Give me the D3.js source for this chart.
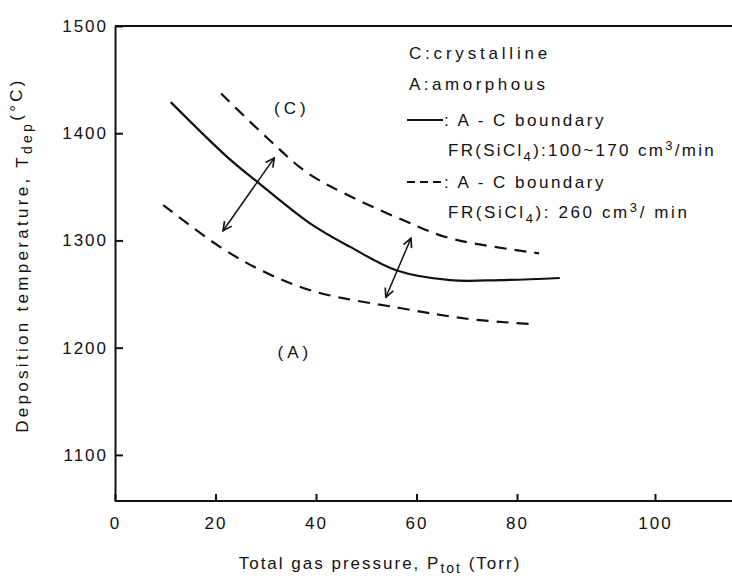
<!DOCTYPE html>
<html>
<head>
<meta charset="utf-8">
<script src="https://d3js.org/d3.v7.min.js"></script>
<style>
  body { margin: 0; background: #fff; }
  text { font-family: "Liberation Sans", Arial, sans-serif; fill: #111; }
</style>
</head>
<body>
<script>
// data
var xTicks = [0, 20, 40, 60, 80, 100];
var yTicks = [1100, 1200, 1300, 1400, 1500];

// A-C boundary, FR(SiCl4) 100~170
var solidP = [11.1, 22.3, 28.5, 38.8, 46.8, 56.1, 66.7, 76.6, 86.2];
var solidT = [1429, 1378, 1354, 1316, 1294, 1272, 1263, 1263, 1265];

// A-C boundary, FR(SiCl4) 260 : upper and lower band
var upperP = [21.1, 30.2, 38, 46, 57.3, 66.7, 83.2];
var upperT = [1437, 1396, 1364, 1343, 1319, 1302, 1288];
var lowerP = [9.6, 20.9, 30, 40, 56.7, 70, 82];
var lowerT = [1333, 1294, 1270, 1252, 1237, 1227, 1222];

// double headed arrows [p1, t1, p2, t2]
var arrows = [[21.5, 1309, 31.7, 1377], [53.9, 1247, 58.9, 1302]];

var width = 732, height = 581;

var svg = d3.select('body').append('svg')
  .attr('width', width)
  .attr('height', height);

// the x ticks of the original are not evenly spaced past 80
var x = d3.scaleLinear().domain([0, 80, 100]).range([115, 517, 655]);
var y = d3.scaleLinear().domain([1057, 1500]).range([501, 26]);

svg.append('defs').append('marker')
  .attr('id', 'head')
  .attr('viewBox', '0 0 10 10')
  .attr('refX', 9).attr('refY', 5)
  .attr('markerWidth', 11).attr('markerHeight', 11)
  .attr('markerUnits', 'userSpaceOnUse')
  .attr('orient', 'auto-start-reverse')
  .append('path')
  .attr('d', 'M1,1 L9,5 L1,9')
  .attr('fill', 'none')
  .attr('stroke', '#111')
  .attr('stroke-width', 1.5);

// axes
var yAxis = svg.append('g')
  .attr('transform', 'translate(' + x(0) + ',0)')
  .call(d3.axisLeft(y).tickValues(yTicks).tickFormat(d3.format('d'))
    .tickSize(-8).tickSizeOuter(0).tickPadding(7));
yAxis.selectAll('text').attr('font-size', 17).attr('letter-spacing', 2);

var xAxis = svg.append('g')
  .attr('transform', 'translate(0,' + y(1057) + ')')
  .call(d3.axisBottom(x).tickValues(xTicks).tickSize(-7).tickSizeOuter(0).tickPadding(16));
xAxis.selectAll('text').attr('font-size', 17).attr('letter-spacing', 2);
xAxis.select('.domain').remove();

svg.selectAll('.tick line, .domain').attr('stroke', '#111').attr('stroke-width', 2);

// bottom and top lines run to the edge
svg.append('line')
  .attr('x1', x(0)).attr('x2', width)
  .attr('y1', y(1057)).attr('y2', y(1057))
  .attr('stroke', '#111').attr('stroke-width', 2);
svg.append('line')
  .attr('x1', x(0)).attr('x2', width)
  .attr('y1', y(1500)).attr('y2', y(1500))
  .attr('stroke', '#111').attr('stroke-width', 2);

// curves
var line = d3.line()
  .x(function(d) { return x(d[0]); })
  .y(function(d) { return y(d[1]); })
  .curve(d3.curveCatmullRom);

function pairs(p, t) { return p.map(function(v, i) { return [v, t[i]]; }); }

svg.append('path')
  .attr('d', line(pairs(solidP, solidT)))
  .attr('fill', 'none').attr('stroke', '#111').attr('stroke-width', 2.2);

[pairs(upperP, upperT), pairs(lowerP, lowerT)].forEach(function(d) {
  svg.append('path')
    .attr('d', line(d))
    .attr('fill', 'none').attr('stroke', '#111').attr('stroke-width', 2.2)
    .attr('stroke-dasharray', '12,8');
});

svg.selectAll('.arrow')
  .data(arrows)
  .enter().append('line')
  .attr('class', 'arrow')
  .attr('x1', function(d) { return x(d[0]); })
  .attr('y1', function(d) { return y(d[1]); })
  .attr('x2', function(d) { return x(d[2]); })
  .attr('y2', function(d) { return y(d[3]); })
  .attr('stroke', '#111').attr('stroke-width', 1.5)
  .attr('marker-start', 'url(#head)')
  .attr('marker-end', 'url(#head)');

// region labels
svg.append('text')
  .attr('x', x(35.2)).attr('y', y(1423.5)).attr('dy', '0.35em')
  .attr('text-anchor', 'middle').attr('font-size', 17)
  .attr('letter-spacing', 4)
  .text('(C)');
svg.append('text')
  .attr('x', x(35.8)).attr('y', y(1196)).attr('dy', '0.35em')
  .attr('text-anchor', 'middle').attr('font-size', 17)
  .attr('letter-spacing', 4)
  .text('(A)');

// legend
var lg = svg.append('g').attr('font-size', 17);
lg.append('text').attr('x', 409).attr('y', 59).attr('letter-spacing', 3.8).text('C:crystalline');
lg.append('text').attr('x', 409).attr('y', 90).attr('letter-spacing', 3.5).text('A:amorphous');

lg.append('line').attr('x1', 407).attr('x2', 443).attr('y1', 120).attr('y2', 120)
  .attr('stroke', '#111').attr('stroke-width', 2.2);
lg.append('text').attr('x', 444).attr('y', 126).attr('letter-spacing', 2.5)
  .text(': A - C  boundary');
var t1 = lg.append('text').attr('x', 448).attr('y', 156).attr('letter-spacing', 2.3);
t1.append('tspan').text('FR(SiCl');
t1.append('tspan').attr('font-size', 13).attr('dy', 5).text('4');
t1.append('tspan').attr('dy', -5).text('):100~170 cm');
t1.append('tspan').attr('font-size', 13).attr('dy', -6).text('3');
t1.append('tspan').attr('dy', 6).text('/min');

lg.append('line').attr('x1', 407).attr('x2', 443).attr('y1', 182).attr('y2', 182)
  .attr('stroke', '#111').attr('stroke-width', 2.2).attr('stroke-dasharray', '8,5');
lg.append('text').attr('x', 444).attr('y', 188).attr('letter-spacing', 2.5)
  .text(': A - C  boundary');
var t2 = lg.append('text').attr('x', 448).attr('y', 218).attr('letter-spacing', 2.6);
t2.append('tspan').text('FR(SiCl');
t2.append('tspan').attr('font-size', 13).attr('dy', 5).text('4');
t2.append('tspan').attr('dy', -5).text('): 260  cm');
t2.append('tspan').attr('font-size', 13).attr('dy', -6).text('3');
t2.append('tspan').attr('dy', 6).text('/ min');

// axis titles
var xt = svg.append('text')
  .attr('x', 380).attr('y', 569)
  .attr('text-anchor', 'middle').attr('font-size', 17)
  .attr('letter-spacing', 2);
xt.append('tspan').text('Total gas pressure, P');
xt.append('tspan').attr('font-size', 14).attr('dy', 4).text('tot');
xt.append('tspan').attr('dy', -4).text(' (Torr)');

var yt = svg.append('text')
  .attr('transform', 'translate(28,255) rotate(-90)')
  .attr('text-anchor', 'middle').attr('font-size', 17)
  .attr('letter-spacing', 3.3);
yt.append('tspan').text('Deposition  temperature, T');
yt.append('tspan').attr('font-size', 14).attr('dy', 4).text('dep');
yt.append('tspan').attr('dy', -10).text('(°C)');
</script>
</body>
</html>
